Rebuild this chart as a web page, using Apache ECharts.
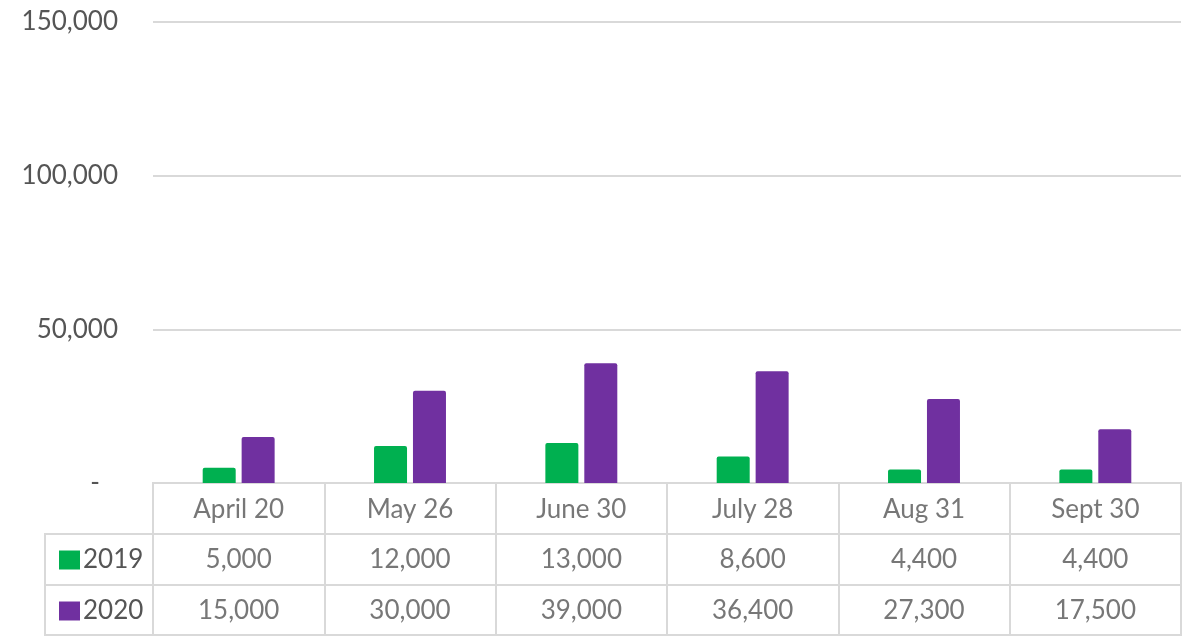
<!DOCTYPE html>
<html>
<head>
<meta charset="utf-8">
<script src="https://cdn.jsdelivr.net/npm/echarts@6/dist/echarts.min.js"></script>
<style>html,body{margin:0;padding:0;background:#fff}#c{width:1193px;height:638px}</style>
</head>
<body>
<div id="c"></div>
<script>
const categories = ['April 20', 'May 26', 'June 30', 'July 28', 'Aug 31', 'Sept 30'];
const seriesNames = ['2019', '2020'];
const values2019 = [5000, 12000, 13000, 8600, 4400, 4400];
const values2020 = [15000, 30000, 39000, 36400, 27300, 17500];
const yTicks = [0, 50000, 100000, 150000];

const FONT = 'Lato';
const TXT = '#555555';
const LINE = '#d9d9d9';
const GREEN = '#00B050';
const PURPLE = '#7030A0';
const fmt = v => v.toLocaleString('en-US');

const tableRows = ['2020', '2019', 'hdr'];
const tableData = [];
categories.forEach((c, i) => tableData.push([i, 'hdr', c]));
values2019.forEach((v, i) => tableData.push([i, '2019', fmt(v)]));
values2020.forEach((v, i) => tableData.push([i, '2020', fmt(v)]));

const legendBase = {
  orient: 'vertical', left: 54,
  itemWidth: 21, itemHeight: 19,
  icon: 'rect', selectedMode: false,
  textStyle: { color: TXT, fontSize: 26, fontFamily: FONT, padding: [0, 0, 0, -2] }
};

const chart = echarts.init(document.getElementById('c'));
chart.setOption({
  animation: false,
  textStyle: { fontFamily: FONT },
  grid: [
    { left: 153, right: 12, top: 22, height: 461 },
    { left: 153, right: 12, top: 483, height: 152, show: true, borderColor: LINE, borderWidth: 2, backgroundColor: 'transparent' },
    { left: 45, width: 108, top: 534, height: 101, show: true, borderColor: LINE, borderWidth: 2, backgroundColor: 'transparent' }
  ],
  legend: [
    Object.assign({}, legendBase, { data: [seriesNames[0]], top: 542 }),
    Object.assign({}, legendBase, { data: [seriesNames[1]], top: 593 })
  ],
  xAxis: [
    { type: 'category', gridIndex: 0, data: categories, axisLine: { show: false }, axisTick: { show: false }, axisLabel: { show: false } },
    { type: 'category', gridIndex: 1, data: categories, axisLine: { show: false }, axisTick: { show: false }, axisLabel: { show: false },
      splitLine: { show: true, interval: 0, lineStyle: { color: LINE, width: 2 } } },
    { type: 'category', gridIndex: 2, data: [''], axisLine: { show: false }, axisTick: { show: false }, axisLabel: { show: false } }
  ],
  yAxis: [
    { type: 'value', gridIndex: 0, min: 0, max: 150000, interval: 50000,
      axisLine: { show: false }, axisTick: { show: false },
      axisLabel: { color: TXT, fontSize: 26, fontFamily: FONT, margin: 35,
        formatter: v => v === 0 ? '{z|-}' : fmt(v),
        rich: { z: { color: TXT, fontSize: 26, fontFamily: FONT, padding: [0, 18, 0, 0] } } },
      splitLine: { lineStyle: { color: LINE, width: 2 } } },
    { type: 'category', gridIndex: 1, data: tableRows, axisLine: { show: false }, axisTick: { show: false }, axisLabel: { show: false },
      splitLine: { show: true, interval: 0, lineStyle: { color: LINE, width: 2 } } },
    { type: 'category', gridIndex: 2, data: ['2020', '2019'], axisLine: { show: false }, axisTick: { show: false }, axisLabel: { show: false },
      splitLine: { show: true, interval: 0, lineStyle: { color: LINE, width: 2 } } }
  ],
  series: [
    { name: seriesNames[0], type: 'bar', xAxisIndex: 0, yAxisIndex: 0, data: values2019, barWidth: 33, barGap: '18%',
      itemStyle: { color: GREEN, borderRadius: [2, 2, 0, 0] } },
    { name: seriesNames[1], type: 'bar', xAxisIndex: 0, yAxisIndex: 0, data: values2020, barWidth: 33, barGap: '18%',
      itemStyle: { color: PURPLE, borderRadius: [2, 2, 0, 0] } },
    { name: 'table', type: 'scatter', xAxisIndex: 1, yAxisIndex: 1, data: tableData, symbolSize: 1, silent: true,
      itemStyle: { color: 'transparent' },
      label: { show: true, position: 'inside', offset: [0, 1], formatter: p => p.value[2], color: TXT, fontSize: 26, fontFamily: FONT } }
  ]
});
</script>
</body>
</html>
